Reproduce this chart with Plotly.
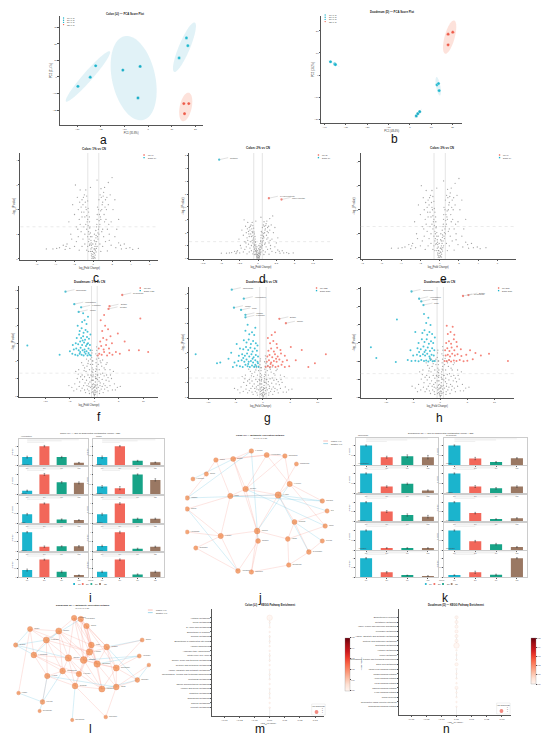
import numpy as np
import plotly.graph_objects as go

W, H = 550, 733
FONT = "Liberation Sans, Arial, sans-serif"

CYAN = "#1BB4CD"
RED = "#F2675A"
TEAL = "#17A387"
BROWN = "#9A7863"
GREY = "#8f8f8f"
ORANGE = "#F0833F"

# ---------------- PCA score plots (a, b) ----------------
pca_groups = ["1% (n=3)", "2% (n=3)", "3% (n=3)", "CN (n=3)"]
pca_colors = [CYAN, "#19ADC6", "#22B9CF", "#EE5B48"]
colon_pc1 = [[-29.7, -24.5, -22.2], [-10.7, -3.4, -4.3], [13.1, 16.2, 16.8], [15.1, 17.2, 15.4]]
colon_pc2 = [[-5.7, -0.2, 6.7], [4.1, 6.3, -12.7], [11.4, 23.5, 18.8], [-16.1, -16.1, -22.2]]
duo_pc1 = [[-37.2, -35.2, -34.9], [3.0, 3.7, 4.6], [12.7, 13.4, 13.7], [17.9, 20.1, 17.9]]
duo_pc2 = [[6.0, 5.0, 4.7], [-18.4, -17.4, -16.5], [-4.4, -3.8, -7.0], [18.4, 19.3, 13.6]]

# ---------------- volcano plots (c-h) ----------------
colon_bg = [(0, 0.02), (0.1, 0.05), (-0.1, 0.08), (0.2, 0.15), (-0.2, 0.12), (0.05, 0.25), (-0.3, 0.3),
            (0.3, 0.28), (0.15, 0.4), (-0.15, 0.45), (0.4, 0.5), (-0.4, 0.55), (-0.5, 0.7), (-0.6, 0.9),
            (-0.45, 1.0), (-0.7, 1.2), (-0.8, 1.4), (-0.65, 1.5), (-0.9, 1.7), (-1.0, 1.9), (-0.75, 2.0),
            (-1.1, 2.2), (-1.2, 2.4), (-0.95, 2.6), (-1.3, 2.1), (-1.5, 1.6), (-1.3, 1.1), (-1.1, 0.8),
            (-1.6, 0.9), (-1.8, 1.3), (-2.0, 1.8), (-1.4, 2.8), (-1.7, 2.5), (-2.2, 2.2), (-0.6, 0.5),
            (-0.9, 0.6), (0.5, 0.8), (0.6, 1.0), (0.55, 1.2), (0.7, 1.4), (0.8, 1.6), (0.65, 1.8), (0.9, 2.0),
            (1.0, 2.3), (0.85, 2.5), (1.1, 2.7), (1.2, 2.9), (1.3, 2.4), (1.4, 2.0), (1.2, 1.5), (1.5, 1.2),
            (1.1, 0.9), (1.7, 1.0), (1.9, 1.5), (2.1, 2.0), (1.6, 3.1), (1.8, 2.6), (2.3, 2.4), (0.7, 0.6),
            (1.0, 0.5), (-2.5, 0.42), (-3.0, 0.38), (-3.6, 0.45), (-4.3, 0.4), (-2.8, 0.6), (-2.0, 0.5),
            (2.4, 0.45), (3.0, 0.4), (3.5, 0.42), (4.2, 0.38), (2.7, 0.65), (1.9, 0.55), (-1.5, 0.35),
            (1.5, 0.32), (-0.3, 2.9), (0.4, 3.2), (-2.6, 1.5), (2.7, 1.6), (-1.9, 3.0), (2.0, 3.3),
            (-0.25, 0.75), (0.3, 0.95), (-0.35, 1.3), (0.4, 1.6), (-0.5, 1.9), (0.45, 2.1), (-0.2, 0.2),
            (0.25, 0.6), (-0.7, 0.35), (0.8, 0.3), (-1.2, 0.5), (1.3, 0.7),
            (0.05, 0.1), (-0.05, 0.18), (0.12, 0.22), (-0.12, 0.3), (0.22, 0.35), (-0.25, 0.4), (0.33, 0.42),
            (-0.35, 0.6), (0.35, 0.7), (-0.45, 0.8), (0.45, 0.9), (-0.5, 1.1), (0.5, 1.05), (-0.55, 1.35),
            (0.6, 1.3), (-0.6, 1.6), (0.62, 1.55), (-0.7, 1.75), (0.75, 1.7), (-0.8, 2.1), (0.78, 1.95),
            (-0.85, 2.3), (0.95, 2.2), (-1.0, 1.3), (1.0, 1.2), (-1.2, 1.7), (1.15, 1.8), (-0.9, 1.0),
            (0.9, 1.1), (-1.4, 1.4), (1.35, 1.6), (-1.6, 2.0), (1.6, 2.2), (-1.05, 2.5), (1.05, 2.55),
            (-0.2, 0.55), (0.18, 0.5), (-0.3, 0.9), (0.28, 0.85), (-0.4, 1.5), (0.38, 1.4), (-2.3, 0.8),
            (2.3, 0.9), (-3.2, 0.55), (3.3, 0.6), (-1.8, 0.7), (1.7, 0.75), (-0.15, 0.02), (0.2, 0.03),
            (-0.5, 0.3), (-0.1, 0.3), (0.08, 0.4), (-0.22, 0.65), (0.18, 0.7), (-0.3, 1.05), (0.27, 1.15),
            (-0.38, 1.25), (0.35, 1.3), (-0.42, 1.7), (0.42, 1.8), (-0.55, 2.05), (0.55, 2.0), (-0.6, 2.35),
            (0.6, 2.4), (-0.7, 2.55), (0.72, 2.6), (-0.8, 2.8), (0.82, 2.85), (-1.25, 1.9), (1.25, 2.1),
            (-1.45, 2.3), (1.45, 2.5), (-1.65, 1.2), (1.65, 1.4), (-2.4, 1.0), (2.5, 1.2), (-2.9, 0.5),
            (2.9, 0.55), (-3.9, 0.42), (3.9, 0.45), (-5.0, 0.4), (4.8, 0.42), (-0.05, 0.6), (0.1, 0.75),
            (-0.15, 0.9), (0.12, 1.0)]
duo_bg = [(0, 0.02), (0.15, 0.1), (-0.15, 0.12), (0.3, 0.2), (-0.3, 0.25), (0.1, 0.35), (-0.45, 0.4),
          (0.45, 0.45), (-0.4, 0.9), (-0.5, 1.4), (-0.35, 1.8), (-0.55, 2.2), (-0.45, 2.6), (0.4, 1.0),
          (0.5, 1.5), (0.35, 1.9), (0.55, 2.3), (0.45, 2.8), (-0.2, 0.7), (0.2, 0.8), (-0.8, 0.5),
          (-1.2, 0.7), (-1.6, 0.9), (-2.0, 1.1), (-2.5, 1.2), (-1.0, 1.05), (-1.4, 0.4), (-2.2, 0.6),
          (-3.0, 0.8), (-3.5, 1.0), (-4.0, 0.7), (-2.8, 0.3), (-1.8, 0.2), (-0.7, 1.2), (-3.3, 1.25),
          (-4.6, 0.5), (-2.4, 0.95), (-1.1, 0.3), (0.8, 0.5), (1.2, 0.75), (1.6, 0.95), (2.0, 1.15),
          (2.5, 1.2), (1.0, 1.05), (1.4, 0.4), (2.2, 0.6), (3.0, 0.85), (3.5, 1.0), (4.1, 0.7), (2.8, 0.3),
          (1.8, 0.2), (0.7, 1.2), (3.3, 1.2), (4.7, 0.5), (2.4, 0.9), (1.1, 0.3), (-1.0, 1.5), (-1.5, 1.7),
          (-2.0, 1.6), (-2.6, 1.9), (-3.2, 1.5), (-1.2, 2.0), (-0.8, 1.8), (1.0, 1.5), (1.5, 1.7),
          (2.0, 1.6), (2.6, 1.9), (3.2, 1.5), (1.2, 2.0), (0.8, 1.8), (-3.8, 1.4), (3.9, 1.4),
          (-0.25, 1.2), (0.25, 1.4), (-0.3, 2.0), (0.3, 2.4), (-1.9, 0.75), (1.9, 0.7),
          (0.05, 0.08), (-0.08, 0.2), (0.2, 0.3), (-0.25, 0.45), (0.3, 0.6), (-0.35, 0.65), (0.1, 0.55),
          (-0.5, 0.55), (0.6, 0.65), (-0.6, 0.9), (0.65, 0.95), (-0.3, 1.1), (0.3, 1.25), (-0.45, 1.6),
          (0.45, 1.7), (-0.25, 1.5), (0.2, 1.1), (-0.9, 0.8), (0.95, 0.85), (-1.3, 1.2), (1.3, 1.25),
          (-1.7, 1.4), (1.7, 1.3), (-2.1, 1.45), (2.2, 1.5), (-2.8, 1.1), (2.8, 1.05), (-1.5, 0.6),
          (1.6, 0.55), (-2.5, 0.45), (2.6, 0.5), (-3.6, 0.4), (3.7, 0.35), (-0.5, 0.2), (0.55, 0.25),
          (-1.0, 0.15), (1.05, 0.15), (-0.8, 2.1), (0.9, 2.15), (-1.6, 2.1), (1.7, 2.05),
          (-0.1, 0.5), (0.12, 0.65), (-0.22, 0.9), (0.25, 1.0), (-0.32, 1.35), (0.35, 1.55), (-0.4, 2.0),
          (0.42, 2.1), (-0.5, 2.45), (0.5, 2.6), (-0.6, 1.15), (0.62, 1.2), (-1.1, 0.55), (1.15, 0.6),
          (-2.0, 0.35), (2.1, 0.4), (-3.1, 0.55), (3.2, 0.6), (-4.2, 0.3), (4.3, 0.35), (-5.2, 0.6),
          (5.3, 0.55), (-1.3, 1.85), (1.35, 1.9), (-2.3, 1.75), (2.4, 1.8), (-0.05, 0.3), (0.08, 0.5)]

d_down = []
d_up = []
d_lab_down = [(-5.3, 7.68, "Cortisone")]
d_lab_up = [(1.48, 4.68, "3-Hydroxybutyrate"), (3.2, 4.58, "Indole-3-acetate")]

f_down = [(-0.7, 2.3), (-1.0, 2.35), (-1.4, 2.3), (-1.8, 2.4), (-2.2, 2.3), (-2.6, 2.35), (-3.0, 2.4),
          (-3.4, 2.3), (-3.9, 2.35), (-4.5, 2.4), (-0.8, 2.6), (-1.2, 2.7), (-1.6, 2.55), (-2.0, 2.65),
          (-2.4, 2.6), (-2.8, 2.75), (-3.2, 2.6), (-3.7, 2.7), (-4.2, 2.65), (-5.0, 2.55), (-0.9, 2.9),
          (-1.3, 3.0), (-1.7, 2.85), (-2.1, 3.05), (-2.5, 2.9), (-2.9, 3.1), (-3.3, 2.95), (-3.8, 3.0),
          (-4.4, 2.9), (-1.1, 3.25), (-1.5, 3.35), (-1.9, 3.2), (-2.3, 3.4), (-2.7, 3.3), (-3.1, 3.5),
          (-3.6, 3.3), (-1.4, 3.65), (-1.8, 3.75), (-2.2, 3.6), (-2.6, 3.85), (-3.0, 3.7), (-1.6, 4.1),
          (-2.0, 4.3), (-2.5, 4.2), (-1.3, 4.5), (-2.3, 4.7), (-3.4, 4.0), (-7.1, 2.35), (-13.7, 2.87),
          (-0.8, 3.5), (-1.2, 2.45), (-2.0, 2.5), (-2.9, 2.5), (-1.5, 2.95), (-2.4, 3.15)]
f_up = [(0.7, 2.3), (1.0, 2.4), (1.5, 2.35), (2.0, 2.5), (2.6, 2.3), (3.1, 2.45), (3.7, 2.35), (4.4, 2.5),
        (5.2, 2.4), (0.9, 2.7), (1.4, 2.85), (1.9, 2.65), (2.4, 2.9), (3.0, 2.7), (3.6, 3.0), (1.2, 3.1),
        (1.8, 3.3), (2.5, 3.2), (3.3, 3.4), (4.8, 3.55), (1.6, 3.7), (2.2, 4.0), (2.8, 3.8), (1.3, 4.3),
        (2.0, 4.6), (7.1, 2.6), (9.1, 2.6), (11.0, 2.5), (9.4, 4.4), (6.2, 3.1)]
f_lab_down = [(-5.9, 5.93, "Taurocholate"), (-4.1, 5.22, "Hypoxanthine"), (-2.7, 5.04, "L-Carnitine"),
              (-3.2, 4.78, "Inosine")]
f_lab_up = [(5.7, 5.74, "Glycocholate"), (3.1, 5.1, "Betaine"), (2.9, 4.95, "Creatine")]

g_down = [(-0.8, 2.05), (-1.2, 2.1), (-1.6, 2.05), (-2.0, 2.15), (-2.4, 2.05), (-2.8, 2.1), (-3.2, 2.2),
          (-3.7, 2.05), (-4.2, 2.1), (-4.8, 2.15), (-5.5, 2.05), (-1.0, 2.4), (-1.4, 2.5), (-1.8, 2.35),
          (-2.2, 2.45), (-2.6, 2.4), (-3.0, 2.55), (-3.4, 2.4), (-3.9, 2.5), (-4.5, 2.45), (-5.2, 2.35),
          (-0.9, 2.75), (-1.3, 2.85), (-1.7, 2.7), (-2.1, 2.9), (-2.5, 2.75), (-2.9, 2.95), (-3.3, 2.8),
          (-3.8, 2.9), (-4.4, 2.8), (-1.1, 3.15), (-1.5, 3.3), (-1.9, 3.1), (-2.3, 3.35), (-2.7, 3.2),
          (-3.1, 3.4), (-3.6, 3.25), (-4.2, 3.3), (-1.3, 3.65), (-1.8, 3.8), (-2.2, 3.6), (-2.6, 3.9),
          (-3.0, 3.7), (-3.5, 3.85), (-1.6, 4.2), (-2.0, 4.4), (-2.5, 4.25), (-3.2, 4.5), (-1.4, 4.7),
          (-2.8, 4.9), (-5.8, 3.0), (-6.3, 2.6), (-4.8, 3.6), (-12.3, 2.9), (-8.4, 2.3), (-7.8, 2.35),
          (-1.0, 3.5), (-0.9, 2.3), (-1.9, 2.6), (-2.7, 2.25), (-3.6, 2.65), (-1.4, 2.2)]
g_up = [(0.5, 2.05), (0.9, 2.1), (1.3, 2.05), (1.8, 2.15), (2.3, 2.05), (2.8, 2.1), (3.4, 2.2), (4.0, 2.05),
        (4.8, 2.1), (0.7, 2.4), (1.1, 2.5), (1.5, 2.35), (2.0, 2.45), (2.5, 2.4), (3.0, 2.55), (3.6, 2.4),
        (4.4, 2.5), (0.8, 2.75), (1.2, 2.85), (1.7, 2.7), (2.2, 2.9), (2.7, 2.75), (3.3, 2.95), (4.0, 2.8),
        (1.0, 3.15), (1.5, 3.3), (2.0, 3.1), (2.6, 3.35), (3.2, 3.2), (1.3, 3.65), (1.9, 3.8), (2.5, 3.6),
        (1.6, 4.2), (2.2, 4.4), (0.9, 4.0), (5.1, 3.4), (7.1, 3.2), (8.3, 2.05), (9.5, 2.3), (11.5, 2.9),
        (6.0, 2.5), (1.4, 2.25), (2.4, 2.6)]
g_lab_down = [(-5.7, 7.27, "Taurocholate"), (-3.5, 6.66, "Hypoxanthine"), (-5.3, 6.05, "Inosine"),
              (-4.0, 5.9, "Uracil"), (-3.2, 5.57, "Xanthine"), (-3.2, 5.4, "L-Carnitine")]
g_lab_up = [(3.0, 5.3, "Betaine"), (4.2, 5.0, "Choline")]

h_down = [(-1.0, 2.0), (-1.4, 1.98), (-1.8, 2.05), (-2.2, 1.97), (-2.6, 2.03), (-3.0, 2.0), (-3.5, 2.06),
          (-4.0, 1.98), (-4.6, 2.02), (-5.3, 2.0), (-6.0, 2.05), (-1.2, 2.3), (-1.6, 2.35), (-2.0, 2.25),
          (-2.4, 2.4), (-2.8, 2.3), (-3.2, 2.38), (-3.7, 2.28), (-4.3, 2.35), (-5.0, 2.3), (-1.1, 2.6),
          (-1.5, 2.7), (-1.9, 2.55), (-2.3, 2.75), (-2.7, 2.6), (-3.1, 2.8), (-3.6, 2.65), (-4.2, 2.7),
          (-5.5, 2.6), (-1.3, 3.0), (-1.7, 3.1), (-2.1, 2.95), (-2.5, 3.2), (-2.9, 3.05), (-3.4, 3.2),
          (-4.0, 3.0), (-1.5, 3.5), (-2.0, 3.6), (-2.4, 3.45), (-2.9, 3.7), (-3.3, 3.55), (-1.8, 4.0),
          (-2.6, 4.1), (-2.2, 4.4), (-3.0, 4.6), (-4.6, 3.6), (-8.0, 4.3), (-12.8, 2.76), (-11.8, 2.16),
          (-8.2, 1.95), (-1.0, 3.3), (-1.9, 2.15), (-2.9, 2.5), (-3.9, 2.5)]
h_up = [(0.8, 2.0), (1.2, 1.98), (1.6, 2.05), (2.0, 1.97), (2.5, 2.03), (3.0, 2.0), (3.6, 2.06), (4.3, 1.98),
        (5.0, 2.02), (1.0, 2.3), (1.4, 2.35), (1.8, 2.25), (2.2, 2.4), (2.7, 2.3), (3.2, 2.38), (3.9, 2.28),
        (4.8, 2.35), (0.9, 2.6), (1.3, 2.7), (1.7, 2.55), (2.1, 2.75), (2.6, 2.6), (3.1, 2.8), (3.8, 2.65),
        (1.1, 3.0), (1.6, 3.1), (2.0, 2.95), (2.5, 3.2), (3.0, 3.05), (1.4, 3.5), (1.9, 3.6), (2.6, 3.45),
        (1.2, 3.95), (2.3, 3.9), (5.5, 2.6), (6.5, 2.45), (7.5, 2.3), (9.0, 2.4), (12.5, 2.0), (6.0, 2.1)]
h_lab_down = [(-5.3, 5.85, "Taurocholate"), (-3.9, 5.45, "Hypoxanthine"), (-3.5, 5.3, "Inosine"),
              (-3.1, 5.1, "Uracil")]
h_lab_up = [(4.2, 5.6, "Glycocholate"), (5.2, 5.65, "Betaine")]

# up / down counts shown in the legends
c_counts, d_counts, e_counts = (0, 0), (2, 1), (0, 0)
f_counts, g_counts, h_counts = (86, 412), (325, 598), (237, 511)

# ---------------- bar panels (i, k) ----------------
bar_groups = ["1%", "2%", "3%", "CN"]
bar_colors = [CYAN, RED, TEAL, BROWN]
i_names = ["Hypoxanthine", "Inosine", "L-Carnitine", "Betaine", "Taurine",
           "Creatine", "Uracil", "Xanthine", "Choline", "L-Proline"]
i_vals = [[0.42, 1.0, 0.42, 0.12], [0.42, 1.0, 0.22, 0.14],
          [0.17, 1.0, 0.60, 0.57], [0.38, 0.30, 1.0, 0.72],
          [0.45, 1.0, 0.18, 0.15], [0.45, 1.0, 0.22, 0.22],
          [1.0, 0.23, 0.25, 0.25], [0.27, 1.0, 0.12, 0.23],
          [0.40, 1.0, 0.30, 0.10], [0.30, 1.0, 0.15, 0.30]]
i_errs = [[0.05, 0.04, 0.04, 0.02], [0.06, 0.03, 0.03, 0.02],
          [0.03, 0.05, 0.04, 0.05], [0.05, 0.08, 0.03, 0.06],
          [0.04, 0.03, 0.03, 0.02], [0.05, 0.04, 0.03, 0.03],
          [0.03, 0.04, 0.03, 0.04], [0.04, 0.05, 0.03, 0.03],
          [0.06, 0.03, 0.05, 0.02], [0.04, 0.04, 0.03, 0.04]]
k_names = ["Taurocholate", "Glycocholate", "Hypoxanthine", "Inosine", "Uracil",
           "Xanthine", "Cortisone", "L-Tyrosine", "Adenosine", "Spermidine"]
k_vals = [[1.0, 0.40, 0.45, 0.40], [1.0, 0.33, 0.15, 0.35],
          [1.0, 0.33, 0.47, 0.13], [1.0, 0.33, 0.24, 0.33],
          [1.0, 0.50, 0.32, 0.23], [1.0, 0.42, 0.10, 0.15],
          [1.0, 0.10, 0.10, 0.10], [1.0, 0.45, 0.30, 0.15],
          [1.0, 0.25, 0.08, 0.05], [0.10, 0.25, 0.12, 1.0]]
k_errs = [[0.03, 0.05, 0.07, 0.09], [0.03, 0.06, 0.03, 0.03],
          [0.03, 0.04, 0.04, 0.03], [0.03, 0.05, 0.04, 0.04],
          [0.03, 0.05, 0.06, 0.07], [0.03, 0.04, 0.02, 0.03],
          [0.03, 0.02, 0.02, 0.02], [0.03, 0.04, 0.04, 0.03],
          [0.03, 0.04, 0.02, 0.02], [0.02, 0.06, 0.03, 0.03]]

# ---------------- correlation networks (j, l) ----------------
metabolites = ["L-Tyrosine", "Hypoxanthine", "Inosine", "Betaine", "Taurine", "L-Carnitine", "Creatine",
               "Uracil", "Xanthine", "Choline", "L-Glutamate", "L-Proline", "Citrulline", "Ornithine",
               "Spermidine", "Adenosine", "Guanosine", "Niacinamide", "Pantothenate", "L-Leucine",
               "L-Valine", "Sarcosine", "Succinate", "Fumarate", "Malate", "Lactate", "Pyruvate",
               "Glycocholate", "Taurocholate", "Cholesterol"]
j_node_x = [69, 85, 32, 50, 22, 8, 63, 47, 2, 2, 2, 37, 75, 76, 11, 55, 69, 104, 116, 109, 97, 143, 148,
            114, 146, 107, 143, 129, 108]
j_node_y = [122, 118, 113, 114, 99, 94, 84, 77, 75, 64, 41, 37, 42, 32, 25, 2, 1, 117, 109, 89, 78, 72, 62,
            51, 47, 34, 32, 21, 8]
j_pos_edges = [(1, 2), (1, 3), (1, 6), (0, 3), (2, 4), (3, 6), (6, 7), (6, 12), (6, 20), (7, 11), (7, 9),
               (4, 8), (11, 12), (11, 14), (12, 13), (13, 15), (13, 16), (12, 25), (17, 19), (17, 6), (18, 20),
               (19, 20), (20, 23), (20, 12), (23, 25), (23, 27), (25, 28), (27, 28), (22, 23), (24, 25),
               (26, 27), (21, 19), (12, 16), (11, 15), (7, 20), (3, 12), (1, 19), (9, 11), (10, 11), (16, 28),
               (14, 15), (2, 7), (1, 17), (19, 24)]
j_neg_edges = [(0, 8), (3, 5), (8, 20), (9, 15), (0, 13), (21, 20), (21, 7), (27, 20), (26, 23), (19, 12),
               (24, 6), (22, 20)]
l_node_x = [64, 71, 18, 48, 77, 35, 3, 82, 98, 135, 22, 80, 58, 74, 88, 132, 142, 108, 52, 69, 36, 130, 65,
            93, 108, 6, 31, 28, 62, 97]
l_node_y = [105, 104, 94, 92, 97, 83, 78, 78, 76, 83, 68, 71, 65, 63, 59, 67, 58, 55, 52, 49, 47, 43, 37,
            34, 36, 30, 21, 12, 3, 6]
l_pos_edges = [(0, 1), (0, 3), (0, 4), (0, 7), (0, 11), (0, 12), (1, 4), (1, 7), (1, 8), (1, 13), (1, 14),
               (2, 3), (2, 5), (2, 10), (2, 11), (3, 5), (3, 7), (3, 12), (3, 13), (3, 18), (4, 7), (4, 8),
               (4, 11), (4, 14), (4, 17), (5, 10), (5, 12), (5, 18), (5, 20), (7, 8), (7, 11), (7, 13),
               (7, 23), (8, 14), (8, 17), (8, 24), (9, 17), (9, 11), (10, 12), (10, 20), (10, 18), (11, 13),
               (11, 14), (11, 19), (11, 22), (12, 13), (12, 19), (12, 18), (12, 22), (13, 14), (13, 17),
               (13, 23), (13, 19), (14, 17), (14, 23), (14, 24), (15, 17), (16, 24), (17, 24), (17, 23),
               (18, 19), (18, 20), (18, 22), (19, 22), (19, 23), (20, 22), (22, 23), (23, 24), (21, 24),
               (21, 17), (2, 25), (20, 26), (22, 29), (3, 14), (0, 13), (5, 11), (10, 19), (12, 23), (24, 29)]
l_neg_edges = [(6, 2), (6, 10), (6, 5), (6, 12), (10, 3), (26, 20), (26, 18), (27, 26), (15, 13), (16, 21),
               (21, 23), (9, 8), (25, 26), (28, 22), (8, 21), (15, 14), (20, 24), (1, 5)]

# ---------------- KEGG enrichment (m, n) ----------------
m_paths = ["Histidine metabolism", "Purine metabolism", "D-Amino acid metabolism", "Biosynthesis of cofactors",
           "Tyrosine metabolism", "Biosynthesis of unsaturated fatty acids", "Arginine biosynthesis",
           "Aminoacyl-tRNA biosynthesis", "Citrate cycle (TCA cycle)", "Glycine, serine and threonine metabolism",
           "Cysteine and methionine metabolism", "Alanine, aspartate and glutamate metabolism",
           "Phenylalanine, tyrosine and tryptophan biosynthesis", "Tryptophan metabolism",
           "Taurine and hypotaurine metabolism", "Arginine and proline metabolism", "Galactose metabolism",
           "Sphingolipid metabolism", "Caffeine metabolism", "Pyruvate metabolism"]
m_neglogp = [0, 0, 0, 0, 0, 0, 0, 0, 0, 0, 0, 0, 0, 0, 0, 0, 0, 0, 0, 0]
m_hits = [3, 1, 1, 1, 1, 1, 1, 1, 1, 1, 1, 1, 1, 1, 1, 1, 1, 1, 1, 1]
n_paths = ["Biosynthesis of cofactors", "Glutathione metabolism", "Valine, leucine and isoleucine degradation",
           "Pyrimidine metabolism", "Alanine, aspartate and glutamate metabolism",
           "Cysteine and methionine metabolism", "Tryptophan metabolism", "Histidine metabolism",
           "Purine metabolism", "Phenylalanine, tyrosine and tryptophan biosynthesis", "Ether lipid metabolism",
           "cGMP-PKG signaling pathway", "mTOR signaling pathway", "Apelin signaling pathway",
           "FoxO signaling pathway", "Calcium signaling pathway", "cAMP signaling pathway", "Insulin secretion",
           "Neuroactive ligand-receptor interaction", "Sphingolipid signaling pathway"]
n_neglogp = [0, 0, 0, 0, 0, 0, 0, 0, 0, 0, 0, 0, 0, 0, 0, 0, 0, 0, 0, 0]
n_hits = [2, 2, 2, 2, 2, 2, 3, 1, 1, 1, 2, 1, 1, 1, 1, 2, 1, 1, 1, 1]
hit_size = {1: 1.6, 2: 3.2, 3: 5.5}

# =====================================================================
fig = go.Figure()
axes = {}
shapes = []
annotations = []


def add_axes(x0, x1, y0, y1, xs=None, ys=None):
    n = len(axes) // 2 + 1
    s = "" if n == 1 else str(n)
    base = dict(showline=True, linecolor="#555", linewidth=0.5, ticks="outside", ticklen=1.5,
                tickwidth=0.4, tickcolor="#555", tickfont=dict(size=2.5, color="#444"),
                showgrid=False, zeroline=False)
    xa = dict(base, domain=[x0 / W, x1 / W], anchor="y" + s)
    ya = dict(base, domain=[1 - y1 / H, 1 - y0 / H], anchor="x" + s)
    xa.update(xs or {})
    ya.update(ys or {})
    axes["xaxis" + s] = xa
    axes["yaxis" + s] = ya
    return "x" + s, "y" + s


def text(x, y, s, size=3, color="#222", **kw):
    kw.setdefault("xanchor", "center")
    kw.setdefault("yanchor", "middle")
    annotations.append(dict(x=x / W, y=1 - y / H, xref="paper", yref="paper", text=s, showarrow=False,
                            font=dict(size=size, family=FONT, color=color), **kw))


def add_key(x, y, items, kind="circle", dy=2.6, size=2.3, r=0.8):
    for i, (label, color) in enumerate(items):
        yy = y + i * dy
        if kind == "line":
            shapes.append(dict(type="line", xref="paper", yref="paper", x0=x / W, x1=(x + 5) / W,
                               y0=1 - yy / H, y1=1 - yy / H, line=dict(color=color, width=0.7)))
            tx = x + 6
        else:
            shapes.append(dict(type=kind, xref="paper", yref="paper", x0=(x - r) / W, x1=(x + r) / W,
                               y0=1 - (yy + r) / H, y1=1 - (yy - r) / H, fillcolor=color,
                               line=dict(width=0)))
            tx = x + 1.8
        text(tx, yy, label, size=size, xanchor="left", yanchor="middle", color="#333")


def axtitle(s, size=2.6):
    return dict(text=s, font=dict(size=size, family=FONT, color="#333"), standoff=0)


def ellipse_path(xs, ys, k=2.4477):
    pts = np.vstack([xs, ys])
    vals, vecs = np.linalg.eigh(np.cov(pts))
    t = np.linspace(0, 2 * np.pi, 72)
    e = vecs @ (np.sqrt(np.maximum(vals, 0))[:, None] * k * np.vstack([np.cos(t), np.sin(t)]))
    e = e + pts.mean(axis=1)[:, None]
    return "M " + " L ".join(f"{a:.3f},{b:.3f}" for a, b in e.T) + " Z"


# ---------------- a, b : PCA ----------------
def pca(box, title, tpos, pc1, pc2, xr, xt, yr, yt, xlab, ylab, key):
    xa, ya = add_axes(*box, xs=dict(range=xr, tickvals=xt, title=axtitle(xlab)),
                      ys=dict(range=yr, tickvals=yt, title=axtitle(ylab)))
    for g in range(len(pca_groups)):
        fill = "rgba(250,190,175,0.45)" if g == 3 else "rgba(180,222,235,0.40)"
        shapes.append(dict(type="path", path=ellipse_path(pc1[g], pc2[g]), xref=xa, yref=ya,
                           fillcolor=fill, line=dict(width=0), layer="below"))
        fig.add_trace(go.Scatter(x=pc1[g], y=pc2[g], mode="markers", xaxis=xa, yaxis=ya, showlegend=False,
                                 marker=dict(size=3.2, color=pca_colors[g], line=dict(width=0.3, color="white"))))
    text(tpos[0], tpos[1], "<b>" + title + "</b>", size=2.8)
    add_key(key[0], key[1], list(zip(pca_groups, pca_colors)), kind="circle", dy=2.2, size=1.9, r=0.7)


pca((54, 203, 8, 117), "Colon (LI) — PCA Score Plot", (122, 6), colon_pc1, colon_pc2,
    [-37.4, 23], [-30, -20, -10, 0, 10, 20], [-29, 36.7], [-20, -10, 0, 10, 20, 30],
    "PC1 (35.8%)", "PC2 (21.4%)", (58, 10))
pca((327, 474, 8, 115), "Duodenum (D) — PCA Score Plot", (401, 4), duo_pc1, duo_pc2,
    [-41.5, 24.5], [-40, -30, -20, -10, 0, 10, 20], [-21.6, 26.6], [-20, -10, 0, 10, 20],
    "PC1 (48.4%)", "PC2 (18.2%)", (331, 7))


# ---------------- c-h : volcano ----------------
def volcano(box, title, tpos, bg, down, up, lab_down, lab_up, xr, xt, yr, yt, counts, key):
    xa, ya = add_axes(*box, xs=dict(range=xr, tickvals=xt, title=axtitle("log<sub>2</sub>(Fold Change)")),
                      ys=dict(range=yr, tickvals=yt, title=axtitle("−log<sub>10</sub>(P value)")))
    for pts, col, sz in ((bg, GREY, 1.3), (down, CYAN, 2.0), (up, RED, 2.0),
                         ([p[:2] for p in lab_down], CYAN, 2.3), ([p[:2] for p in lab_up], RED, 2.3)):
        if pts:
            x, y = zip(*pts)
            fig.add_trace(go.Scatter(x=x, y=y, mode="markers", xaxis=xa, yaxis=ya, showlegend=False,
                                     hoverinfo="skip", marker=dict(size=sz, color=col, opacity=0.8, line_width=0)))
    for v in (-0.585, 0.585):
        shapes.append(dict(type="line", xref=xa, yref=ya + " domain", x0=v, x1=v, y0=0, y1=1,
                           line=dict(color="#bbb", width=0.4)))
    shapes.append(dict(type="line", xref=xa + " domain", yref=ya, x0=0, x1=1, y0=1.301, y1=1.301,
                       line=dict(color="#ccc", width=0.4, dash="dot")))
    for x, y, name in lab_down + lab_up:
        annotations.append(dict(x=x, y=y, xref=xa, yref=ya, text=name, showarrow=True, arrowhead=0,
                                arrowwidth=0.3, arrowcolor="#999", ax=9, ay=-2, xanchor="left",
                                font=dict(size=1.8, family=FONT, color="#444")))
    text(tpos[0], tpos[1], "<b>" + title + "</b>", size=3)
    add_key(key[0], key[1], [(f"Up ({counts[0]})", RED), (f"Down ({counts[1]})", CYAN)], kind="rect",
            dy=2.6, size=2.0, r=0.7)


volcano((13, 157, 145, 252), "Colon: 1% vs CN", (90, 141), colon_bg, [], [], [], [],
        [-7.76, 6.94], [-6, -4, -2, 0, 2, 4, 6], [-0.05, 4.3], [0, 1, 2, 3, 4], c_counts, (142, 147))
volcano((189, 339, 145, 251), "Colon: 2% vs CN", (261, 140), colon_bg, d_down, d_up, d_lab_down, d_lab_up,
        [-9.4, 10.2], [-7.5, -5, -2.5, 0, 2.5, 5, 7.5], [-0.05, 8.2], [0, 1, 2, 3, 4, 5, 6, 7, 8], d_counts,
        (324, 147))
volcano((368, 530, 145, 251), "Colon: 3% vs CN", (453, 140), colon_bg, [], [], [], [],
        [-8.2, 7.9], [-8, -6, -4, -2, 0, 2, 4, 6], [-0.05, 4.36], [0, 1, 2, 3, 4], e_counts, (513, 147))
volcano((12, 157, 278, 389), "Duodenum: 1% vs CN", (85, 274), duo_bg, f_down, f_up, f_lab_down, f_lab_up,
        [-15.3, 13.1], [-10, -5, 0, 5, 10], [-0.05, 6.25], [0, 1, 2, 3, 4, 5, 6], f_counts, (138, 280))
volcano((189, 338, 279, 390), "Duodenum: 2% vs CN", (265, 274), duo_bg, g_down, g_up, g_lab_down, g_lab_up,
        [-13.5, 12.6], [-10, -5, 0, 5, 10], [-0.05, 7.45], [0, 1, 2, 3, 4, 5, 6, 7], g_counts, (322, 280))
volcano((368, 528, 279, 390), "Duodenum: 3% vs CN", (450, 274), duo_bg, h_down, h_up, h_lab_down, h_lab_up,
        [-14.7, 13.6], [-10, -5, 0, 5, 10], [-0.05, 6.1], [0, 1, 2, 3, 4, 5, 6], h_counts, (512, 280))


# ---------------- i, k : bar grids ----------------
def bar_grid(cols, rows, names, vals, errs, title, tpos, legend_x):
    k = 0
    for r in rows:
        for c in cols:
            xa, ya = add_axes(c[0], c[1], r[0], r[1],
                              xs=dict(range=[-0.5, 3.5], mirror=True, linecolor="#ccc", ticklen=1,
                                      tickfont=dict(size=1.8, color="#555")),
                              ys=dict(range=[0, 1.38], mirror=True, linecolor="#ccc", nticks=4, ticklen=1,
                                      tickfont=dict(size=1.8, color="#555"),
                                      title=dict(text="Intensity", font=dict(size=1.8, family=FONT), standoff=1)))
            fig.add_trace(go.Bar(x=bar_groups, y=vals[k], xaxis=xa, yaxis=ya, width=0.58, showlegend=False,
                                 marker=dict(color=bar_colors, line=dict(width=0)),
                                 error_y=dict(type="data", array=errs[k], thickness=0.4, width=0.8, color="#333")))
            for y0, x0, x1 in ((1.2, 0, 1), (1.28, 0, 2), (1.34, 0, 3)):
                shapes.append(dict(type="line", xref=xa, yref=ya, x0=x0, x1=x1, y0=y0, y1=y0,
                                   line=dict(color="#c8c8c8", width=0.3)))
            annotations.append(dict(x=0.005, y=1.0, xref=xa + " domain", yref=ya + " domain", text=names[k],
                                    showarrow=False, xanchor="left", yanchor="bottom",
                                    font=dict(size=1.8, family=FONT, color="#444")))
            k += 1
    text(tpos[0], tpos[1], title, size=2.4, color="#333")
    text(tpos[0], 572, "Group", size=1.9, color="#555")
    for g in range(4):
        add_key(legend_x + g * 9, 576, [(bar_groups[g], bar_colors[g])], kind="rect", size=1.9, r=0.9)


bar_grid([(11, 83), (89, 163)], [(431, 457), (459, 486), (488, 515), (517, 543), (545, 569)], i_names,
         i_vals, i_errs, "Colon (LI) — Top 10 Differential Metabolites (Mean ± SE)", (86, 425), 69)
bar_grid([(363, 449), (455, 542)], [(430, 457), (458, 485), (487, 513), (515, 542), (543, 569)], k_names,
         k_vals, k_errs, "Duodenum (D) — Top 10 Differential Metabolites (Mean ± SE)", (452, 425), 436)


# ---------------- j, l : networks ----------------
def network(box, xr, yr, nx, ny, pos_e, neg_e, base, step, title, tpos, key):
    xa, ya = add_axes(*box, xs=dict(visible=False, range=xr), ys=dict(visible=False, range=yr))
    for edges, col in ((pos_e, "rgba(244,140,125,0.45)"), (neg_e, "rgba(110,195,225,0.55)")):
        ex, ey = [], []
        for a, b in edges:
            ex += [nx[a], nx[b], None]
            ey += [ny[a], ny[b], None]
        fig.add_trace(go.Scatter(x=ex, y=ey, mode="lines", xaxis=xa, yaxis=ya, showlegend=False,
                                 hoverinfo="skip", line=dict(color=col, width=0.5)))
    deg = [0] * len(nx)
    for a, b in pos_e + neg_e:
        deg[a] += 1
        deg[b] += 1
    fig.add_trace(go.Scatter(x=nx, y=ny, mode="markers+text", xaxis=xa, yaxis=ya, showlegend=False,
                             text=metabolites[:len(nx)], textposition="middle right",
                             textfont=dict(size=1.6, family=FONT, color="#555"),
                             marker=dict(size=[base + step * d for d in deg], color=ORANGE,
                                         line=dict(width=0.4, color="#D9602A"))))
    text(tpos[0], tpos[1], "<b>" + title[0] + "</b>", size=2.3)
    text(tpos[0], tpos[1] + 3, title[1], size=2.0, color="#444")
    add_key(key[0], key[1], [("Positive (r>0)", "rgba(244,140,125,0.8)"), ("Negative (r<0)", "rgba(110,195,225,0.9)")],
            kind="line", dy=2.6, size=1.8)


network((185, 340, 438, 568), [0, 155], [-3, 127], j_node_x, j_node_y, j_pos_edges, j_neg_edges, 3.8, 0.25,
        ("Colon (LI) — Metabolite Correlation Network", "(|r|>0.8, p<0.05)"), (263, 427), (329, 433))
network((5, 150, 600, 716), [0, 145], [-1, 115], l_node_x, l_node_y, l_pos_edges, l_neg_edges, 3.0, 0.35,
        ("Duodenum (D) — Metabolite Correlation Network", "(|r|>0.8, p<0.05)"), (78, 597), (146, 602))


# ---------------- m, n : KEGG bubble ----------------
def bubble(box, paths, neglogp, hits, title, tpos, cb, key):
    xa, ya = add_axes(*box,
                      xs=dict(range=[-0.038, 0.036], dtick=0.01, tickformat=".2f",
                              title=axtitle("−log<sub>10</sub>(P value)", 2.4)),
                      ys=dict(type="category", categoryorder="array", categoryarray=paths,
                              autorange="reversed", tickfont=dict(size=2.1, color="#333"), ticklen=1))
    shapes.append(dict(type="line", xref=xa, yref=ya + " domain", x0=0, x1=0, y0=0, y1=1,
                       line=dict(color="#d5d5d5", width=0.4, dash="dash"), layer="below"))
    fig.add_trace(go.Scatter(
        x=neglogp, y=paths, mode="markers", xaxis=xa, yaxis=ya, showlegend=False,
        marker=dict(size=[hit_size[h] for h in hits], color=neglogp, colorscale="Reds", cmin=0, cmax=0.05,
                    opacity=0.85, line=dict(width=0.25, color="#EFC9BC"),
                    colorbar=dict(x=cb[0] / W, xanchor="left", y=1 - cb[1] / H, yanchor="middle",
                                  len=cb[2] / H, lenmode="fraction", thickness=4.5, outlinewidth=0.3,
                                  outlinecolor="#888", ticks="outside", ticklen=1, tickwidth=0.3,
                                  dtick=0.01, tickformat=".2f", tickfont=dict(size=1.8, color="#444"),
                                  title=dict(text="−log<sub>10</sub>(P value)", side="right",
                                             font=dict(size=1.9, family=FONT))))))
    text(tpos[0], tpos[1], "<b>" + title + "</b>", size=2.6)
    shapes.append(dict(type="rect", xref="paper", yref="paper", x0=key[0] / W, x1=(key[0] + 14) / W,
                       y0=1 - (key[1] + 11) / H, y1=1 - key[1] / H, line=dict(color="#ccc", width=0.3),
                       fillcolor="white"))
    text(key[0] + 7, key[1] + 1.5, "Hits (Compounds)", size=1.6, color="#333")
    shapes.append(dict(type="circle", xref="paper", yref="paper", x0=(key[0] + 3) / W, x1=(key[0] + 7) / W,
                       y0=1 - (key[1] + 10) / H, y1=1 - (key[1] + 6) / H, fillcolor="#F28B82",
                       line=dict(width=0)))
    for t, dy in (("1", 4.5), ("2", 6.5), ("3", 8.5)):
        text(key[0] + 9, key[1] + dy, t, size=1.5, color="#444", xanchor="left")


bubble((213, 330, 601, 708), m_paths, m_neglogp, m_hits, "Colon (LI) — KEGG Pathway Enrichment", (273, 597),
       (341, 656, 73), (317, 696))
bubble((408, 525, 601, 707), n_paths, n_neglogp, n_hits, "Duodenum (D) — KEGG Pathway Enrichment", (468, 597),
       (535, 653, 66), (510, 695))

# ---------------- panel letters ----------------
letters = [("a", 100, 132), ("b", 403, 131), ("c", 92, 270), ("d", 266, 271), ("e", 454, 271),
           ("f", 95, 409), ("g", 271, 410), ("h", 450, 410), ("i", 86, 590), ("j", 263, 590),
           ("k", 457, 590), ("l", 86, 721), ("m", 263, 721), ("n", 458, 721)]
for s, x, y in letters:
    text(x, y, s, size=12, color="#111", borderpad=0)

fig.update_layout(width=W, height=H, margin=dict(l=0, r=0, t=0, b=0), autosize=False,
                  paper_bgcolor="white", plot_bgcolor="white", font=dict(family=FONT, size=3),
                  shapes=shapes, annotations=annotations, bargap=0.3, **axes)
fig.write_html("out.html")
